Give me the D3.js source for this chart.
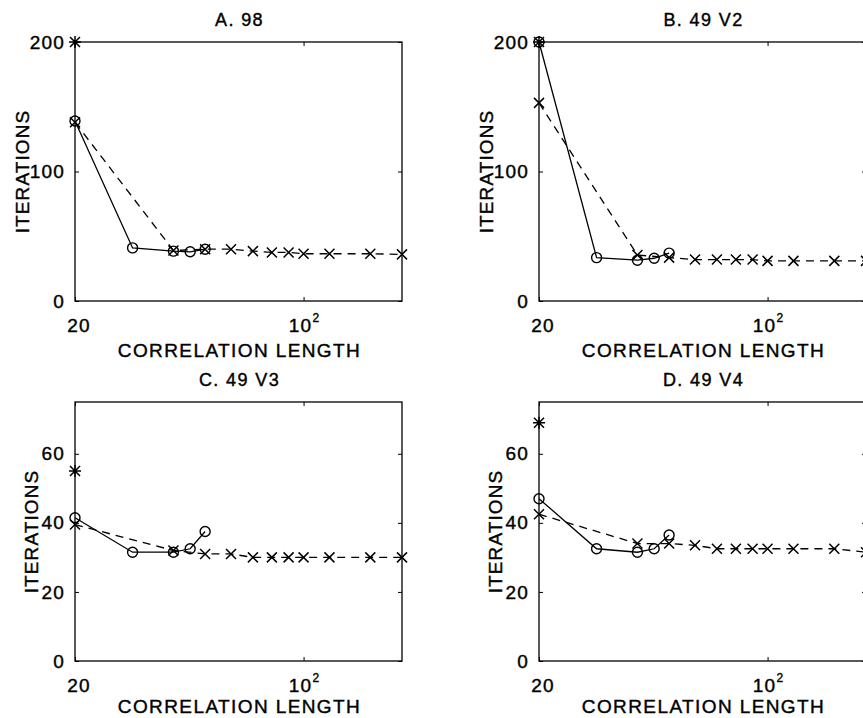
<!DOCTYPE html>
<html>
<head>
<meta charset="utf-8">
<script src="https://cdn.jsdelivr.net/npm/d3@7"></script>
<style>
  html, body { margin: 0; padding: 0; background: #fff; }
  svg { display: block; }
  text { font-family: "Liberation Sans", Arial, Helvetica, sans-serif; fill: #000; stroke: #000; stroke-width: 0.4px; }
</style>
</head>
<body>
<svg id="chart" width="863" height="718"></svg>
<script>
// Correlation lengths sampled by each method
const circleLengths = [20, 30, 40, 45, 50];
const crossLengths = [20, 40, 50, 60, 70, 80, 90, 100, 120, 160, 200];
const starLength = 20;

// Panel titles and y ranges
const panelTitles = ["A. 98", "B. 49 V2", "C. 49 V3", "D. 49 V4"];
const yMaxima = [200, 200, 75, 75];
const yTicksBig = [0, 100, 200];
const yTicksSmall = [0, 20, 40, 60];
const xDomain = [20, 200];

// Iteration counts, solid line with circles
const circleA = [139, 41, 38.5, 38, 40];
const circleB = [200, 33.5, 31.5, 33, 37];
const circleC = [41.5, 31.5, 31.5, 32.5, 37.5];
const circleD = [47, 32.5, 31.5, 32.5, 36.5];

// Iteration counts, dashed line with crosses
const crossA = [138, 39, 40, 40, 38.5, 37.5, 37.5, 36.5, 36.5, 36.5, 36];
const crossB = [153, 35.5, 33.5, 32, 32, 32, 32, 31, 31, 31, 31];
const crossC = [39.5, 32, 31, 31, 30, 30, 30, 30, 30, 30, 30];
const crossD = [42.5, 34, 34, 33.5, 32.5, 32.5, 32.5, 32.5, 32.5, 32.5, 31.5];

// Single asterisk point at the shortest length
const starValues = [200, 200, 55, 69];

const circleSeries = [circleA, circleB, circleC, circleD];
const crossSeries = [crossA, crossB, crossC, crossD];

const svg = d3.select("#chart");
svg.append("rect").attr("width", 863).attr("height", 718).attr("fill", "#fff");

const plotW = 327, plotH = 259;
const origins = [
  { left: 75, top: 42, xLabelGap: 56 },
  { left: 539, top: 42, xLabelGap: 56 },
  { left: 75, top: 402, xLabelGap: 52 },
  { left: 539, top: 402, xLabelGap: 52 }
];

const R = 5; // marker half-size
const crossPath = `M${-R},${-R}L${R},${R}M${-R},${R}L${R},${-R}`;
const starPath = crossPath + `M0,${-R - 1}L0,${R + 1}M${-R - 1},0L${R + 1},0`;

panelTitles.forEach((title, i) => {
  const o = origins[i];
  const g = svg.append("g").attr("transform", `translate(${o.left},${o.top})`);

  const x = d3.scaleLog().domain(xDomain).range([0, plotW]);
  const y = d3.scaleLinear().domain([0, yMaxima[i]]).range([plotH, 0]);
  const yTicks = yMaxima[i] > 100 ? yTicksBig : yTicksSmall;

  // frame
  g.append("rect")
    .attr("width", plotW).attr("height", plotH)
    .attr("fill", "none").attr("stroke", "#000").attr("stroke-width", 1.3);

  // y ticks (inward, both sides) and labels
  const yAxisL = d3.axisLeft(y).tickValues(yTicks).tickSizeInner(-4).tickSizeOuter(0).tickPadding(10);
  const yl = g.append("g").call(yAxisL);
  yl.select(".domain").remove();
  yl.selectAll("line").attr("stroke", "#000").attr("stroke-width", 1);
  yl.selectAll("text").attr("font-size", 19).attr("font-family", null)
    .attr("letter-spacing", 1.2).attr("fill", "#000");

  const yAxisR = d3.axisRight(y).tickValues(yTicks).tickSizeInner(-4).tickSizeOuter(0).tickFormat("");
  const yr = g.append("g").attr("transform", `translate(${plotW},0)`).call(yAxisR);
  yr.select(".domain").remove();
  yr.selectAll("line").attr("stroke", "#000").attr("stroke-width", 1);

  // x ticks (inward, top and bottom)
  const xTickVals = [20, 100];
  const xb = g.append("g").attr("transform", `translate(0,${plotH})`)
    .call(d3.axisBottom(x).tickValues(xTickVals).tickSizeInner(-4).tickSizeOuter(0).tickFormat(""));
  xb.select(".domain").remove();
  xb.selectAll("line").attr("stroke", "#000");
  const xt = g.append("g")
    .call(d3.axisTop(x).tickValues(xTickVals).tickSizeInner(-4).tickSizeOuter(0).tickFormat(""));
  xt.select(".domain").remove();
  xt.selectAll("line").attr("stroke", "#000");

  // x tick labels: 20 and 10^2
  g.append("text")
    .attr("x", x(20) + 4).attr("y", plotH + 31)
    .attr("text-anchor", "middle").attr("font-size", 19).attr("letter-spacing", 1.2).text("20");
  const t100 = g.append("text")
    .attr("x", x(100) + 1).attr("y", plotH + 31)
    .attr("text-anchor", "middle").attr("font-size", 19).attr("letter-spacing", 1.2);
  t100.append("tspan").text("10");
  t100.append("tspan").attr("font-size", 12).attr("dy", -10).text("2");

  // axis titles
  g.append("text")
    .attr("x", plotW / 2 + 1).attr("y", plotH + o.xLabelGap)
    .attr("text-anchor", "middle").attr("font-size", 19).attr("letter-spacing", 1.4)
    .text("CORRELATION LENGTH");
  const yLabelX = yMaxima[i] > 100 ? -53 : -44;
  g.append("text")
    .attr("transform", `translate(${yLabelX},${plotH / 2}) rotate(-90)`)
    .attr("text-anchor", "middle").attr("dy", "0.35em").attr("font-size", 19)
    .attr("letter-spacing", 1.1)
    .text("ITERATIONS");

  // panel title
  g.append("text")
    .attr("x", plotW / 2 + 1).attr("y", -16)
    .attr("text-anchor", "middle").attr("font-size", 18).attr("letter-spacing", 1.4)
    .text(title);

  // data
  const circles = circleLengths.map((len, k) => ({ len, val: circleSeries[i][k] }));
  const crosses = crossLengths.map((len, k) => ({ len, val: crossSeries[i][k] }));
  const line = d3.line().x(d => x(d.len)).y(d => y(d.val));

  g.append("path").datum(crosses)
    .attr("d", line).attr("fill", "none")
    .attr("stroke", "#000").attr("stroke-width", 1.3)
    .attr("stroke-dasharray", "8,6");
  g.append("path").datum(circles)
    .attr("d", line).attr("fill", "none")
    .attr("stroke", "#000").attr("stroke-width", 1.3);

  g.selectAll(".cross").data(crosses).enter().append("path")
    .attr("transform", d => `translate(${x(d.len)},${y(d.val)})`)
    .attr("d", crossPath).attr("fill", "none")
    .attr("stroke", "#000").attr("stroke-width", 1.5);

  g.selectAll(".circ").data(circles).enter().append("circle")
    .attr("cx", d => x(d.len)).attr("cy", d => y(d.val)).attr("r", R)
    .attr("fill", "none").attr("stroke", "#000").attr("stroke-width", 1.4);

  g.append("path")
    .attr("transform", `translate(${x(starLength)},${y(starValues[i])})`)
    .attr("d", starPath).attr("fill", "none")
    .attr("stroke", "#000").attr("stroke-width", 1.5);
});
</script>
</body>
</html>
